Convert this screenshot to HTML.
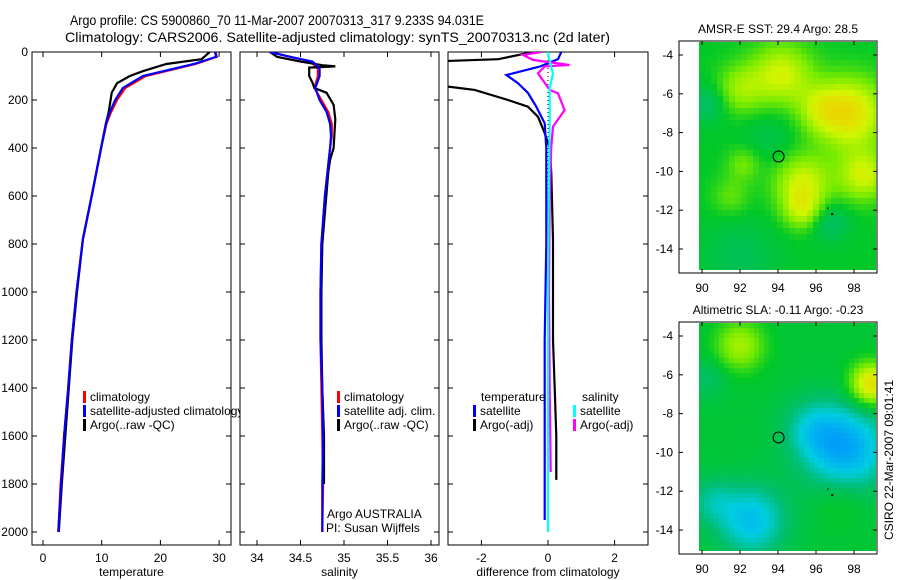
<!DOCTYPE html>
<html><head><meta charset="utf-8">
<style>
body{margin:0;background:#fff;}
svg{display:block;font-family:"Liberation Sans",sans-serif;}
</style></head>
<body>
<svg id="c" width="900" height="580" viewBox="0 0 900 580" xmlns="http://www.w3.org/2000/svg">
<rect width="900" height="580" fill="#fff"/>
<text x="70" y="25" font-size="14" textLength="414" lengthAdjust="spacingAndGlyphs">Argo profile: CS 5900860_70 11-Mar-2007 20070313_317 9.233S 94.031E</text>
<text x="65" y="42" font-size="14" textLength="545" lengthAdjust="spacingAndGlyphs">Climatology: CARS2006. Satellite-adjusted climatology: synTS_20070313.nc (2d later)</text>
<g id="root"></g>
</svg>
<script>
// ---- data ----
const depthTicks=[0,200,400,600,800,1000,1200,1400,1600,1800,2000];
const tempTicks=[0,10,20,30];
const salTicks=[34,34.5,35,35.5,36];
const diffTicks=[-2,0,2];
const tempClimDepth=[0,20,50,100,150,200,250,300,400,600,780,1000,1200,1400,1600,1800,2000];
const tempClim=[29.4,29.6,26.0,17.5,14.0,12.6,11.6,10.8,9.9,8.3,6.8,5.7,4.9,4.3,3.6,3.0,2.6];
const tempSat=[29.3,29.5,25.7,17.0,13.6,12.3,11.4,10.7,9.9,8.3,6.8,5.7,4.9,4.3,3.6,3.1,2.6];
const tempArgoDepth=[0,30,50,80,100,130,170,250,300,400,600,780,1000,1200,1400,1600,1800,2000];
const tempArgo=[28.4,27.0,21.0,17.0,14.8,12.6,11.7,11.2,10.7,9.9,8.3,6.8,5.8,5.0,4.4,3.8,3.2,2.7];
const salDepth=[0,20,40,70,100,150,200,250,300,350,400,600,800,1000,1200,1400,1600,1800,2000];
const salClim=[34.15,34.38,34.62,34.70,34.70,34.66,34.74,34.82,34.86,34.86,34.84,34.78,34.74,34.73,34.73,34.74,34.75,34.76,34.75];
const salSat=[34.15,34.38,34.64,34.72,34.72,34.67,34.72,34.80,34.84,34.85,34.84,34.78,34.74,34.73,34.73,34.75,34.76,34.75,34.75];
const salArgoDepth=[0,20,40,55,60,65,100,130,150,170,220,280,400,450,500,800,1000,1200,1400,1600,1800];
const salArgo=[34.15,34.23,34.5,34.75,34.9,34.6,34.6,34.64,34.66,34.8,34.88,34.9,34.88,34.84,34.82,34.75,34.74,34.74,34.75,34.77,34.77];
const dTempArgoDepth=[0,30,40,130,144,158,200,228,270,338,400,505,783,1000,1200,1400,1600,1783];
const dTempArgo=[-0.45,-1.5,-3.6,-3.6,-3.0,-2.2,-1.2,-0.6,-0.3,-0.1,0.05,0.1,0.15,0.15,0.15,0.2,0.25,0.25];
const dTempSatDepth=[0,30,61,96,130,171,228,297,400,800,1200,1600,1950];
const dTempSat=[0.4,0.3,-0.25,-1.25,-0.9,-0.6,-0.35,-0.1,-0.05,-0.05,-0.1,-0.1,-0.1];
const dSalSatDepth=[0,40,90,150,300,600,1000,1500,2000];
const dSalSat=[0,0.05,0.15,0.05,0.05,0.02,0,0,0];
const dSalArgoDepth=[0,12,33,54,60,89,158,172,242,311,395,600,1000,1400,1750];
const dSalArgo=[-0.2,-0.75,-0.45,0.65,-0.1,-0.3,0.05,0.3,0.5,0.15,0.1,0.05,0.03,0.05,0.08];
const mapXTicks=[90,92,94,96,98];
const mapYTicks=[-4,-6,-8,-10,-12,-14];
// map fields as blobs [lon, lat, amplitude, radius]
const sstBlobs=[[94.2,-5,0.3,1.6],[97.8,-7,0.4,1.8],[95.3,-10.6,0.3,1.5],[98.5,-10.2,0.3,1.3],[92,-5.8,0.2,1.3],[95.3,-12,0.22,1.0],[92.2,-9.6,0.15,0.9],[96.2,-6.8,0.18,1.2],[90.3,-6.5,-0.15,1.0],[96.7,-12.6,-0.15,1.0],[92,-14.5,-0.1,2.0],[91.5,-11.3,0.12,1.0],[93.5,-8.3,-0.08,1.5]];
const slaBlobs=[[92,-4.5,0.25,1.3],[98.9,-6.5,0.45,1.1],[97.6,-9.8,-0.4,2.2],[92.6,-13.5,-0.32,1.8],[90.3,-6.2,-0.1,1.0],[97.3,-12.5,0.08,1.3],[95.8,-8.8,-0.18,1.5],[90.5,-12.5,-0.15,1.2]];
const argoPos=[94.031,-9.233];
// ---- helpers ----
const NS="http://www.w3.org/2000/svg";
const root=document.getElementById('root');
function mk(tag,attrs,parent){const e=document.createElementNS(NS,tag);for(const k in attrs)e.setAttribute(k,attrs[k]);(parent||root).appendChild(e);return e;}
const yTop=52,yPer=0.24;
function yD(d){return yTop+d*yPer;}
const panels=[
 {x0:32,x1:231,fx:v=>43+v*5.87,ticks:tempTicks,label:'temperature',name:'temperature-panel'},
 {x0:240,x1:439,fx:v=>257+(v-34)*87,ticks:salTicks,label:'salinity',name:'salinity-panel'},
 {x0:448,x1:648,fx:v=>548+v*33.3,ticks:diffTicks,label:'difference from climatology',name:'difference-panel'}
];
const defs=mk('defs',{});
panels.forEach((p,i)=>{
 const cp=mk('clipPath',{id:'cp'+i},defs);
 mk('rect',{x:p.x0,y:yTop,width:p.x1-p.x0,height:545-yTop},cp);
});
const lc=mk('clipPath',{id:'legclip'},defs);
mk('rect',{x:0,y:0,width:240,height:580},lc);
function line(pi,xs,ds,color,name){
 const p=panels[pi];
 const pts=xs.map((v,i)=>p.fx(v).toFixed(1)+','+yD(ds[i]).toFixed(1)).join(' ');
 const e=mk('polyline',{points:pts,fill:'none',stroke:color,'stroke-width':2.2,'clip-path':'url(#cp'+pi+')'});
 
 
}
function txt(x,y,s,attrs,name,parent){const e=mk('text',Object.assign({x:x,y:y,'font-size':12},attrs||{}),parent);e.textContent=s;
 
 return e;}
panels.forEach((p,i)=>{
 const f=mk('rect',{x:p.x0,y:yTop,width:p.x1-p.x0,height:545-yTop,fill:'none',stroke:'#000','stroke-width':1});
 
 
 p.ticks.forEach(t=>{const x=p.fx(t);
  mk('line',{x1:x,x2:x,y1:545,y2:540,stroke:'#000'});
  mk('line',{x1:x,x2:x,y1:yTop,y2:yTop+5,stroke:'#000'});
  txt(x,562,String(t),{'text-anchor':'middle'},'x-tick-label');
 });
 depthTicks.forEach(d=>{const y=yD(d);
  mk('line',{x1:p.x0,x2:p.x0+5,y1:y,y2:y,stroke:'#000'});
  mk('line',{x1:p.x1,x2:p.x1-5,y1:y,y2:y,stroke:'#000'});
  if(i===0)txt(28,y+4,String(d),{'text-anchor':'end'},'y-tick-label');
 });
 txt((p.x0+p.x1)/2,576,p.label,{'text-anchor':'middle'},'x-axis-title');
});
line(0,tempClim,tempClimDepth,'#f00','temp-climatology-line');
line(0,tempArgo,tempArgoDepth,'#000','temp-argo-line');
line(0,tempSat,tempClimDepth,'#00f','temp-satellite-line');
line(1,salClim,salDepth,'#f00','sal-climatology-line');
line(1,salArgo,salArgoDepth,'#000','sal-argo-line');
line(1,salSat,salDepth,'#00f','sal-satellite-line');
mk('line',{x1:548,x2:548,y1:yTop,y2:532,stroke:'#000','stroke-dasharray':'1,3'});
line(2,dTempArgo,dTempArgoDepth,'#000','diff-temp-argo-line');
line(2,dTempSat,dTempSatDepth,'#00f','diff-temp-satellite-line');
line(2,dSalArgo,dSalArgoDepth,'#f0f','diff-sal-argo-line');
line(2,dSalSat,dSalSatDepth,'#0ff','diff-sal-satellite-line');
function leg(x,y,color,label,parent){
 const r=mk('rect',{x:x-1,y:y-10,width:3,height:12,fill:color},parent);
 
 
 txt(x+6,y,label,{},'legend-entry',parent);
}
const lg1=mk('g',{'clip-path':'url(#legclip)'});


leg(84,401,'#f00','climatology',lg1);leg(84,415,'#00f','satellite-adjusted climatology',lg1);leg(84,429,'#000','Argo(..raw -QC)',lg1);
leg(338,401,'#f00','climatology');leg(338,415,'#00f','satellite adj. clim.');leg(338,429,'#000','Argo(..raw -QC)');
txt(327,518,'Argo AUSTRALIA',{},'credit-text');txt(326,532,'PI: Susan Wijffels',{},'pi-text');
txt(481,401,'temperature',{},'legend-title-temperature');
leg(474,415,'#00f','satellite');leg(474,429,'#000','Argo(-adj)');
txt(582,401,'salinity',{},'legend-title-salinity');
leg(574,415,'#0ff','satellite');leg(574,429,'#f0f','Argo(-adj)');
// maps
const stops=[[0,[0,150,255]],[0.2,[0,205,225]],[0.35,[0,190,110]],[0.5,[0,200,40]],[0.65,[120,235,0]],[0.8,[210,245,0]],[1,[245,200,0]]];
function cmap(v){v=Math.max(0,Math.min(1,v));for(let i=1;i<stops.length;i++){if(v<=stops[i][0]){const a=stops[i-1],b=stops[i];const t=(v-a[0])/(b[0]-a[0]);return 'rgb('+a[1].map((c,k)=>Math.round(c+(b[1][k]-c)*t)).join(',')+')';}}return 'rgb(245,200,0)';}
function drawMap(top,blobs,base,title,name,cell){
 const g=mk('g',{});
 
 
 const fx=lon=>702+(lon-90)*19, fy=lat=>top+13+(-4-lat)*19.4;
 for(let y=top;y<top+228;y+=cell){for(let x=699;x<876;x+=cell){
  const lon=90+(x+cell/2-702)/19, lat=-4-(y+cell/2-top-13)/19.4;
  let v=base;blobs.forEach(b=>{const d2=((lon-b[0])**2+(lat-b[1])**2)/(b[3]*b[3]);v+=b[2]*Math.exp(-d2);});
  mk('rect',{x:x,y:y,width:Math.min(cell,876-x),height:Math.min(cell,top+228-y),fill:cmap(v)},g);
 }}
 const fr=mk('rect',{x:679,y:top-1,width:198,height:232,fill:'none',stroke:'#000'});
 
 
 mapXTicks.forEach(t=>{const x=fx(t);mk('line',{x1:x,x2:x,y1:top+231,y2:top+227,stroke:'#000'});mk('line',{x1:x,x2:x,y1:top-1,y2:top+3,stroke:'#000'});txt(x,top+250,String(t),{'text-anchor':'middle'},'map-x-tick-label');});
 mapYTicks.forEach(t=>{const y=fy(t);mk('line',{x1:679,x2:683,y1:y,y2:y,stroke:'#000'});mk('line',{x1:877,x2:873,y1:y,y2:y,stroke:'#000'});txt(673,y+4,String(t),{'text-anchor':'end'},'map-y-tick-label');});
 const c=mk('circle',{cx:fx(argoPos[0]),cy:fy(argoPos[1]),r:5.5,fill:'none',stroke:'#000','stroke-width':1});
 
 
 mk('rect',{x:fx(96.6),y:fy(-11.85),width:1,height:2,fill:'#000'});
 mk('rect',{x:fx(96.8),y:fy(-12.15),width:2,height:2,fill:'#000'});
 txt(778,top-9,title,{'text-anchor':'middle'},name+'-title');
}
drawMap(42,sstBlobs,0.5,'AMSR-E SST: 29.4  Argo: 28.5','sst-map',6);
drawMap(323,slaBlobs,0.47,'Altimetric SLA: -0.11  Argo: -0.23','sla-map',5);
txt(0,0,'CSIRO 22-Mar-2007 09:01:41',{'text-anchor':'middle',transform:'translate(893,460) rotate(-90)'},'timestamp-text');
</script>
</body></html>
